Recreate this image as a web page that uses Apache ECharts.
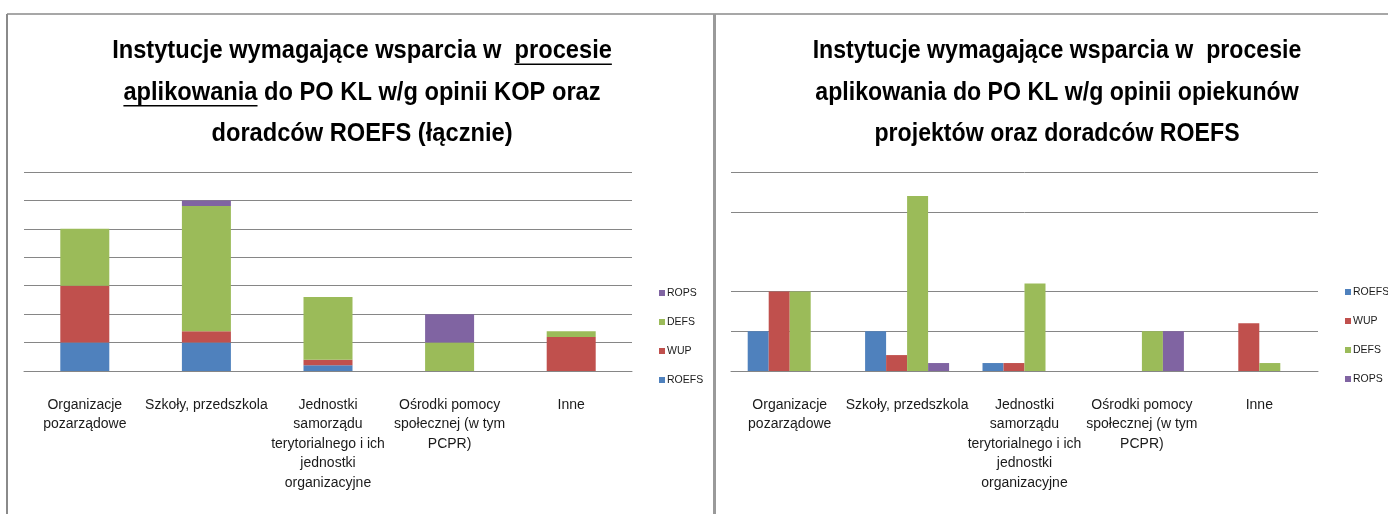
<!DOCTYPE html>
<html>
<head>
<meta charset="utf-8">
<script src="https://cdn.jsdelivr.net/npm/echarts@6/dist/echarts.min.js"></script>
<style>
html,body{margin:0;padding:0;background:#fff;}
#c{width:1388px;height:514px;}
</style>
</head>
<body>
<div id="c"></div>
<script>
// ---- data ----
const categories = [
  'Organizacje\npozarządowe',
  'Szkoły, przedszkola',
  'Jednostki\nsamorządu\nterytorialnego i ich\njednostki\norganizacyjne',
  'Ośrodki pomocy\nspołecznej (w tym\nPCPR)',
  'Inne'
];
const seriesNames = ['ROEFS', 'WUP', 'DEFS', 'ROPS'];
const roefs = [1, 1, 0.2, 0, 0];
const wup   = [2, 0.4, 0.2, 0, 1.2];
const defs  = [2, 4.4, 2.2, 1, 0.2];
const rops  = [0, 0.2, 0, 1, 0];
const titleLeftLines  = ['Instytucje wymagające wsparcia w  procesie', 'aplikowania do PO KL w/g opinii KOP oraz', 'doradców ROEFS (łącznie)'];
const titleRightLines = ['Instytucje wymagające wsparcia w  procesie', 'aplikowania do PO KL w/g opinii opiekunów', 'projektów oraz doradców ROEFS'];
const legendLeftOrder  = ['ROPS', 'DEFS', 'WUP', 'ROEFS'];
const legendRightOrder = ['ROEFS', 'WUP', 'DEFS', 'ROPS'];

// ---- styling ----
const colors = ['#4F81BD', '#C0504D', '#9BBB59', '#8064A2'];
const values = [roefs, wup, defs, rops];
const gridColor = '#868686';
const FONT = '"Liberation Sans", Arial, sans-serif';
const titleSize = 26, titleLH = 41.5;

const chart = echarts.init(document.getElementById('c'), null, {renderer: 'canvas'});

const ctx = document.createElement('canvas').getContext('2d');
ctx.font = 'bold ' + titleSize + 'px ' + FONT;
function w(t){ return ctx.measureText(t).width; }

function underline(cx, sx, lines, lineIdx, prefix, word, topY){
  const lineW = w(lines[lineIdx]);
  const x0 = cx + sx * (-lineW / 2 + w(prefix));
  const y = topY + titleLH * lineIdx + titleLH / 2 + 13;
  return {type: 'line', silent: true, shape: {x1: x0, y1: y, x2: x0 + sx * w(word), y2: y},
          style: {stroke: '#000', lineWidth: 1.6}};
}

const titleTop = 30.5;
const leftCx = 362, rightCx = 1057;
const leftSx = 0.91, rightSx = 0.89;

function titleText(cx, sx, lines){
  return {type: 'text', silent: true, x: cx, y: titleTop, scaleX: sx, style: {text: lines.join('\n'), fill: '#000',
    fontSize: titleSize, fontWeight: 'bold', fontFamily: FONT, align: 'center', verticalAlign: 'top', lineHeight: titleLH}};
}

const graphics = [
  {type: 'line', silent: true, shape: {x1: 7, y1: 14, x2: 1388, y2: 14}, style: {stroke: '#8a8a8a', lineWidth: 1.5}},
  {type: 'line', silent: true, shape: {x1: 7, y1: 14, x2: 7, y2: 514}, style: {stroke: '#8a8a8a', lineWidth: 2}},
  {type: 'line', silent: true, shape: {x1: 714.5, y1: 14, x2: 714.5, y2: 514}, style: {stroke: '#9a9a9a', lineWidth: 3}},
  titleText(leftCx, leftSx, titleLeftLines),
  titleText(rightCx, rightSx, titleRightLines),
  underline(leftCx, leftSx, titleLeftLines, 0, 'Instytucje wymagające wsparcia w  ', 'procesie', titleTop),
  underline(leftCx, leftSx, titleLeftLines, 1, '', 'aplikowania', titleTop)
];

const axisLabelStyle = {color: '#1a1a1a', fontSize: 14, fontFamily: FONT, lineHeight: 19.5, margin: 24, interval: 0};

const series = [];
seriesNames.forEach((n, i) => {
  series.push({name: n, type: 'bar', stack: 'total', xAxisIndex: 0, yAxisIndex: 0, barWidth: 49,
    itemStyle: {color: colors[i]}, data: values[i]});
});
seriesNames.forEach((n, i) => {
  series.push({name: n, type: 'bar', xAxisIndex: 1, yAxisIndex: 1, barWidth: 21, barGap: '0%',
    itemStyle: {color: colors[i]}, data: values[i]});
});

const legendText = {fontSize: 10.5, fontFamily: FONT, color: '#1a1a1a', lineHeight: 12, padding: [0, 0, 0, -3]};

chart.setOption({
  animation: false,
  backgroundColor: '#fff',
  graphic: graphics,
  grid: [
    {left: 24, top: 172, width: 608, height: 199},
    {left: 731, top: 172, width: 587, height: 199}
  ],
  xAxis: [0, 1].map(gi => ({
    type: 'category', gridIndex: gi, data: categories,
    axisLine: {show: true, lineStyle: {color: gridColor, width: 1}},
    axisTick: {show: false},
    axisLabel: axisLabelStyle
  })),
  yAxis: [
    {type: 'value', gridIndex: 0, min: 0, max: 7, interval: 1,
     axisLabel: {show: false}, axisLine: {show: false}, axisTick: {show: false},
     splitLine: {lineStyle: {color: gridColor, width: 1}}},
    {type: 'value', gridIndex: 1, min: 0, max: 5, interval: 1,
     axisLabel: {show: false}, axisLine: {show: false}, axisTick: {show: false},
     splitLine: {lineStyle: {color: [gridColor, gridColor, gridColor, 'rgba(0,0,0,0)', gridColor, gridColor], width: 1}}}
  ],
  legend: [
    {data: legendLeftOrder, orient: 'vertical', left: 654, top: 282, itemWidth: 6, itemHeight: 6, itemGap: 17,
     icon: 'rect', textStyle: legendText, selectedMode: false},
    {data: legendRightOrder, orient: 'vertical', left: 1340, top: 281, itemWidth: 6, itemHeight: 6, itemGap: 17,
     icon: 'rect', textStyle: legendText, selectedMode: false}
  ],
  series: series
});
</script>
</body>
</html>
